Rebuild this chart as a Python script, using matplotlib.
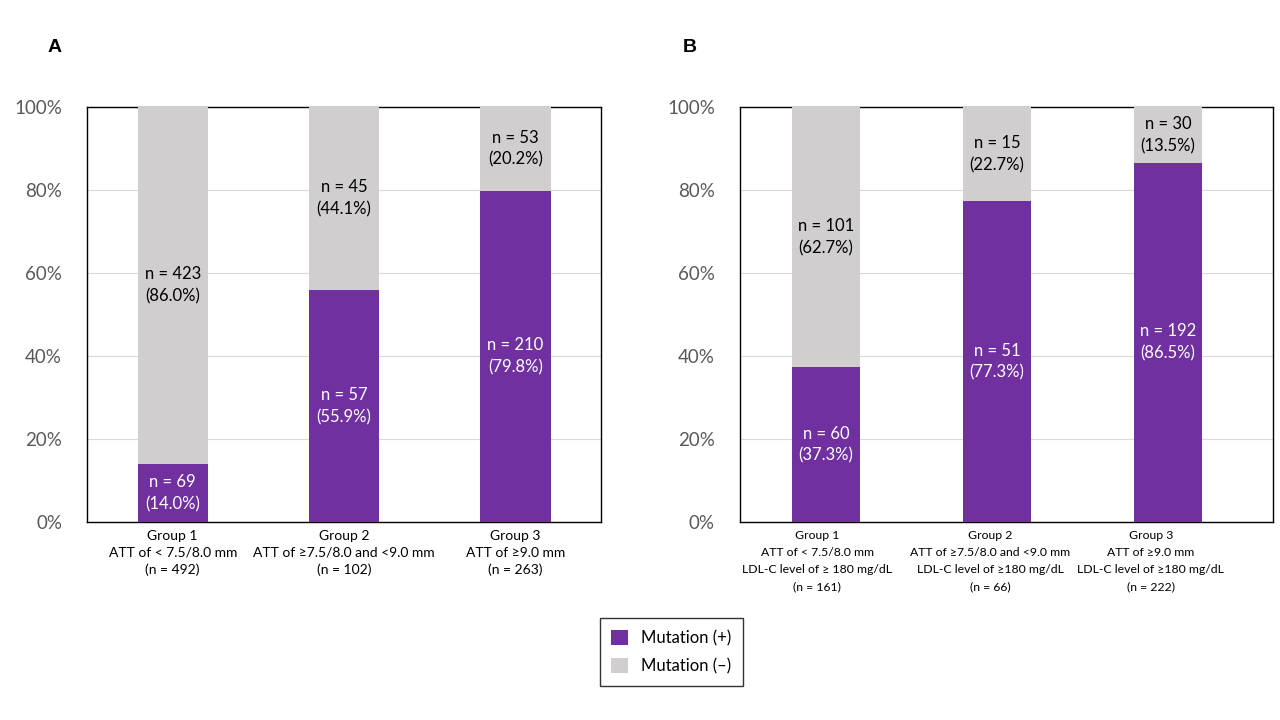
import matplotlib
matplotlib.use("Agg")
import matplotlib.pyplot as plt
from matplotlib.patches import Patch

plt.rcParams['font.family'] = ['Lato', 'DejaVu Sans']

cats_a = ["Group 1\nATT of < 7.5/8.0 mm\n(n = 492)",
          "Group 2\nATT of \u22657.5/8.0 and <9.0 mm\n(n = 102)",
          "Group 3\nATT of \u22659.0 mm\n(n = 263)"]
pos_n_a = [69, 57, 210]
pos_pct_a = [14.0, 55.9, 79.8]
neg_n_a = [423, 45, 53]
neg_pct_a = [86.0, 44.1, 20.2]

cats_b = ["Group 1\nATT of < 7.5/8.0 mm\nLDL-C level of \u2265 180 mg/dL\n(n = 161)",
          "Group 2\nATT of \u22657.5/8.0 and <9.0 mm\nLDL-C level of \u2265180 mg/dL\n(n = 66)",
          "Group 3\nATT of \u22659.0 mm\nLDL-C level of \u2265180 mg/dL\n(n = 222)"]
pos_n_b = [60, 51, 192]
pos_pct_b = [37.3, 77.3, 86.5]
neg_n_b = [101, 15, 30]
neg_pct_b = [62.7, 22.7, 13.5]

yticks = [0, 20, 40, 60, 80, 100]
PURPLE = "#7030A0"
GREY = "#D0CECE"

fig = plt.figure(figsize=(12.8, 7.2), dpi=100)
ax_a = fig.add_axes([0.068, 0.275, 0.4016, 0.5764])
ax_b = fig.add_axes([0.578, 0.275, 0.4164, 0.5764])

def draw(ax, cats, pn, pp, nn, npct, width, xlim, lab_shift, fs, lsp):
    x = list(range(len(cats)))
    ax.bar(x, pp, width=width, color=PURPLE, zorder=3)
    ax.bar(x, npct, bottom=pp, width=width, color=GREY, zorder=3)
    for i in x:
        ax.text(i, pp[i] / 2, f"n = {pn[i]}\n({pp[i]:.1f}%)", ha="center", va="center",
                color="white", fontsize=12, linespacing=1.45, zorder=4)
        ax.text(i, pp[i] + npct[i] / 2, f"n = {nn[i]}\n({npct[i]:.1f}%)", ha="center", va="center",
                color="black", fontsize=12, linespacing=1.45, zorder=4)
    ax.set_xlim(*xlim)
    ax.set_ylim(0, 100)
    ax.set_yticks(yticks)
    ax.set_yticklabels([f"{t}%" for t in yticks], color="#595959", fontsize=13.5)
    ax.set_xticks([i + s for i, s in zip(x, lab_shift)])
    ax.set_xticklabels(cats, fontsize=fs, linespacing=lsp)
    ax.tick_params(axis="both", length=0)
    ax.tick_params(axis="y", pad=18)
    ax.tick_params(axis="x", pad=6)
    ax.grid(axis="y", color="#D9D9D9", linewidth=0.8, zorder=0)
    for s in ax.spines.values():
        s.set_color("black")
        s.set_linewidth(1.0)

draw(ax_a, cats_a, pos_n_a, pos_pct_a, neg_n_a, neg_pct_a, 0.41, (-0.5, 2.5), [0, 0, 0], 10, 1.45)
draw(ax_b, cats_b, pos_n_b, pos_pct_b, neg_n_b, neg_pct_b, 0.40, (-0.503, 2.614),
     [-0.05, -0.04, -0.1], 8.8, 1.65)

fig.text(55 / 1280, 1 - 48 / 720, "A", fontsize=14, fontweight="bold", ha="center", va="center",
         family=["Liberation Sans", "DejaVu Sans"])
fig.text(690 / 1280, 1 - 48 / 720, "B", fontsize=14, fontweight="bold", ha="center", va="center",
         family=["Liberation Sans", "DejaVu Sans"])

handles = [Patch(facecolor=PURPLE, label="Mutation (+)"), Patch(facecolor=GREY, label="Mutation (\u2013)")]
leg = fig.legend(handles=handles, loc="center", bbox_to_anchor=(671.5 / 1280, 1 - 652 / 720),
                 fontsize=12, frameon=True, fancybox=False, edgecolor="black",
                 handlelength=1.0, handleheight=1.0, handletextpad=0.8, borderpad=0.7,
                 labelspacing=0.7)
leg.get_frame().set_linewidth(1.0)

fig.savefig("out.png", dpi=100, facecolor="white")
